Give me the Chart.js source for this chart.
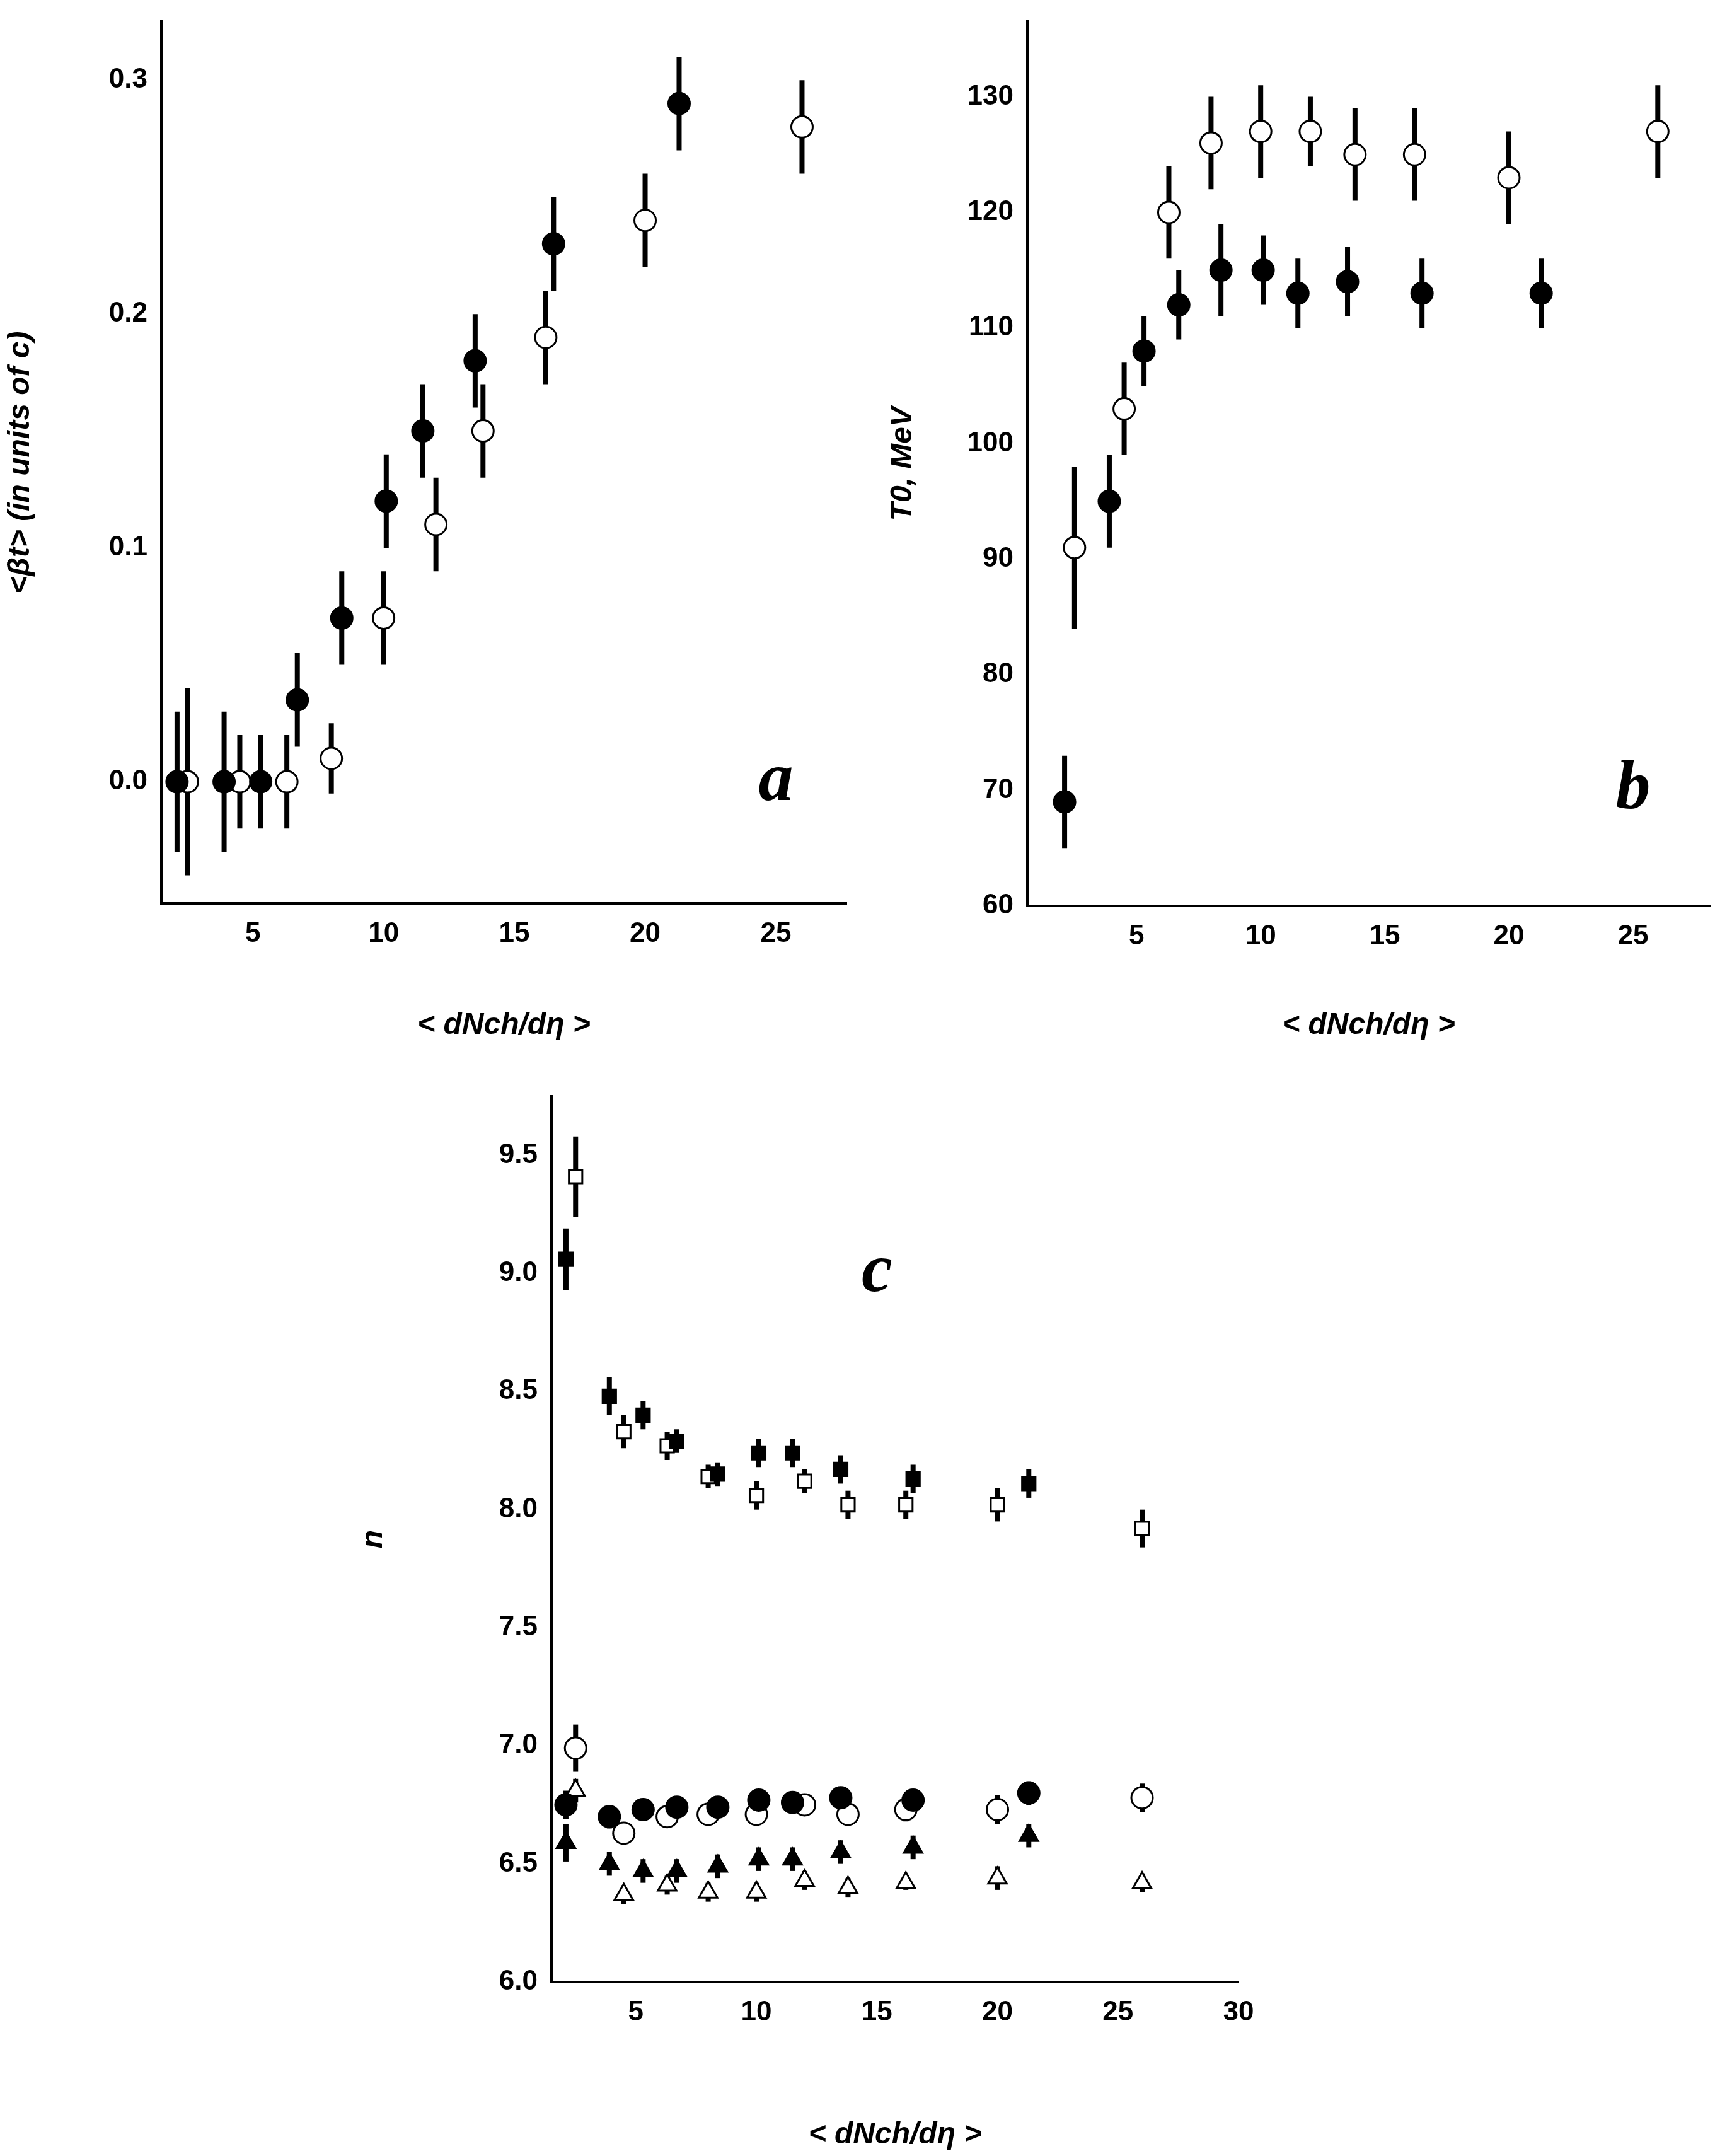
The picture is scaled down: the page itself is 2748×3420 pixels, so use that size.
<!DOCTYPE html>
<html><head><meta charset="utf-8">
<script src="https://cdn.jsdelivr.net/npm/chart.js@4/dist/chart.umd.min.js"></script>
<style>body{margin:0;background:#fff;width:2748px;height:3420px;position:relative;overflow:hidden}
canvas{position:absolute}</style></head><body>
<canvas id="ca" style="left:0;top:0"></canvas>
<canvas id="cb" style="left:1400px;top:0"></canvas>
<canvas id="cc" style="left:560px;top:1680px"></canvas>
<script>
// x positions
const xFilled=[2.1,3.9,5.3,6.7,8.4,10.1,11.5,13.5,16.5,21.3];
const xOpen=[2.5,4.5,6.3,8.0,10.0,12.0,13.8,16.2,20.0,26.0];
// panel a: <beta_t>
const aFilled=[0,0,0,0.035,0.07,0.12,0.15,0.18,0.23,0.29];
const aFilledErr=[0.03,0.03,0.02,0.02,0.02,0.02,0.02,0.02,0.02,0.02];
const aOpen=[0,0,0,0.01,0.07,0.11,0.15,0.19,0.24,0.28];
const aOpenErr=[0.04,0.02,0.02,0.015,0.02,0.02,0.02,0.02,0.02,0.02];
// panel b: T0
const bFilled=[69,95,108,112,115,115,113,114,113,113];
const bFilledErr=[4,4,3,3,4,3,3,3,3,3];
const bOpen=[91,103,120,126,127,127,125,125,123,127];
const bOpenErr=[7,4,4,4,4,3,4,4,4,4];
// panel c: n
const cSqF=[9.06,8.48,8.40,8.29,8.15,8.24,8.24,8.17,8.13,8.11];
const cSqFErr=[0.13,0.08,0.06,0.05,0.05,0.06,0.06,0.06,0.06,0.06];
const cSqO=[9.41,8.33,8.27,8.14,8.06,8.12,8.02,8.02,8.02,7.92];
const cSqOErr=[0.17,0.07,0.06,0.05,0.06,0.05,0.06,0.06,0.07,0.08];
const cCiF=[6.75,6.70,6.73,6.74,6.74,6.77,6.76,6.78,6.77,6.80];
const cCiFErr=[0.06,0.05,0.04,0.04,0.03,0.04,0.04,0.04,0.04,0.05];
const cCiO=[6.99,6.63,6.70,6.71,6.71,6.75,6.71,6.73,6.73,6.78];
const cCiOErr=[0.10,0.04,0.04,0.04,0.04,0.04,0.05,0.05,0.06,0.06];
const cTrF=[6.59,6.50,6.47,6.47,6.49,6.52,6.52,6.55,6.57,6.62];
const cTrFErr=[0.08,0.05,0.05,0.05,0.05,0.05,0.05,0.05,0.05,0.05];
const cTrO=[6.81,6.37,6.41,6.38,6.38,6.43,6.40,6.42,6.44,6.42];
const cTrOErr=[0.05,0.04,0.04,0.04,0.04,0.04,0.04,0.03,0.05,0.04];

const F='"Liberation Sans", Arial, sans-serif';
Chart.defaults.font.family=F;Chart.defaults.font.weight='bold';Chart.defaults.color='#000';
const errPlugin={id:'err',beforeDatasetsDraw(ch){const c=ch.ctx,xs=ch.scales.x,ys=ch.scales.y;
 c.save();c.strokeStyle='#000';c.lineWidth=8;
 ch.data.datasets.forEach(d=>{d.data.forEach((p,i)=>{const e=d.errs[i];const px=xs.getPixelForValue(p.x);
  c.beginPath();c.moveTo(px,ys.getPixelForValue(p.y-e));c.lineTo(px,ys.getPixelForValue(p.y+e));c.stroke();});});
 c.restore();}};
const letterPlugin={id:'letter',afterDraw(ch,a,o){if(!o||!o.text)return;const c=ch.ctx;c.save();c.font='italic bold 110px "Liberation Serif", serif';c.fillStyle='#000';
 c.textAlign='center';c.textBaseline='middle';c.fillText(o.text,ch.scales.x.getPixelForValue(o.x),ch.scales.y.getPixelForValue(o.y));c.restore();}};
function ds(xs,ys,errs,style,filled,r){return {data:xs.map((x,i)=>({x,y:ys[i]})),errs,pointStyle:style,pointRadius:r||17,
 backgroundColor:filled?'#000':'#fff',borderColor:'#000',borderWidth:3,showLine:false};}
function make(id,w,h,yw,xh,pt,pr,sets,xr,xt,yr,yt,ytitle,letter,dec){
 const cv=document.getElementById(id);cv.width=w;cv.height=h;cv.style.width=w+'px';cv.style.height=h+'px';
 new Chart(cv,{type:'scatter',data:{datasets:sets},plugins:[errPlugin,letterPlugin],
 options:{responsive:false,animation:false,devicePixelRatio:1,layout:{padding:{top:pt,right:pr}},
  plugins:{legend:{display:false},tooltip:{enabled:false},letter:letter},
  scales:{x:{type:'linear',min:xr[0],max:xr[1],grid:{display:false,drawTicks:true,tickLength:14,tickColor:'#000'},border:{color:'#000',width:4},
    afterBuildTicks:s=>{s.ticks=xt.map(v=>({value:v}));},afterFit:s=>{s.height=xh;},
    ticks:{font:{size:44,weight:'bold'},padding:8,callback:v=>String(v)},
    title:{display:true,text:'< dNch/dη >',font:{size:48,weight:'bold',style:'italic'},padding:{top:20}}},
   y:{type:'linear',min:yr[0],max:yr[1],grid:{display:false,tickLength:14,tickColor:'#000'},border:{color:'#000',width:4},
    afterBuildTicks:s=>{s.ticks=yt.map(v=>({value:v}));},afterFit:s=>{s.width=yw;},
    ticks:{font:{size:44,weight:'bold'},padding:8,callback:v=>Number(v).toFixed(dec)},
    title:{display:true,text:ytitle,font:{size:48,weight:'bold',style:'italic'},padding:{bottom:10}}}}}});}
make('ca',1370,1660,256,227,18,27,
 [ds(xFilled,aFilled,aFilledErr,'circle',true),ds(xOpen,aOpen,aOpenErr,'circle',false)],
 [1.5,27.7],[5,10,15,20,25],[-0.052,0.325],[0,0.1,0.2,0.3],'<βt> (in units of c)',{text:'a',x:25,y:0},1);
make('cb',1348,1660,230,223,18,35,
 [ds(xFilled,bFilled,bFilledErr,'circle',true),ds(xOpen,bOpen,bOpenErr,'circle',false)],
 [0.6,28.1],[5,10,15,20,25],[60,136.5],[60,70,80,90,100,110,120,130],'T0, MeV',{text:'b',x:25,y:70},0);
make('cc',1440,1740,315,276,59,35,
 [ds(xFilled,cSqF,cSqFErr,'rect',true,15),ds(xOpen,cSqO,cSqOErr,'rect',false,15),
  ds(xFilled,cCiF,cCiFErr,'circle',true),ds(xOpen,cCiO,cCiOErr,'circle',false),
  ds(xFilled,cTrF,cTrFErr,'triangle',true),ds(xOpen,cTrO,cTrOErr,'triangle',false)],
 [1.5,30],[5,10,15,20,25,30],[6.0,9.75],[6.0,6.5,7.0,7.5,8.0,8.5,9.0,9.5],'n',{text:'c',x:15,y:9.0},1);
</script></body></html>
